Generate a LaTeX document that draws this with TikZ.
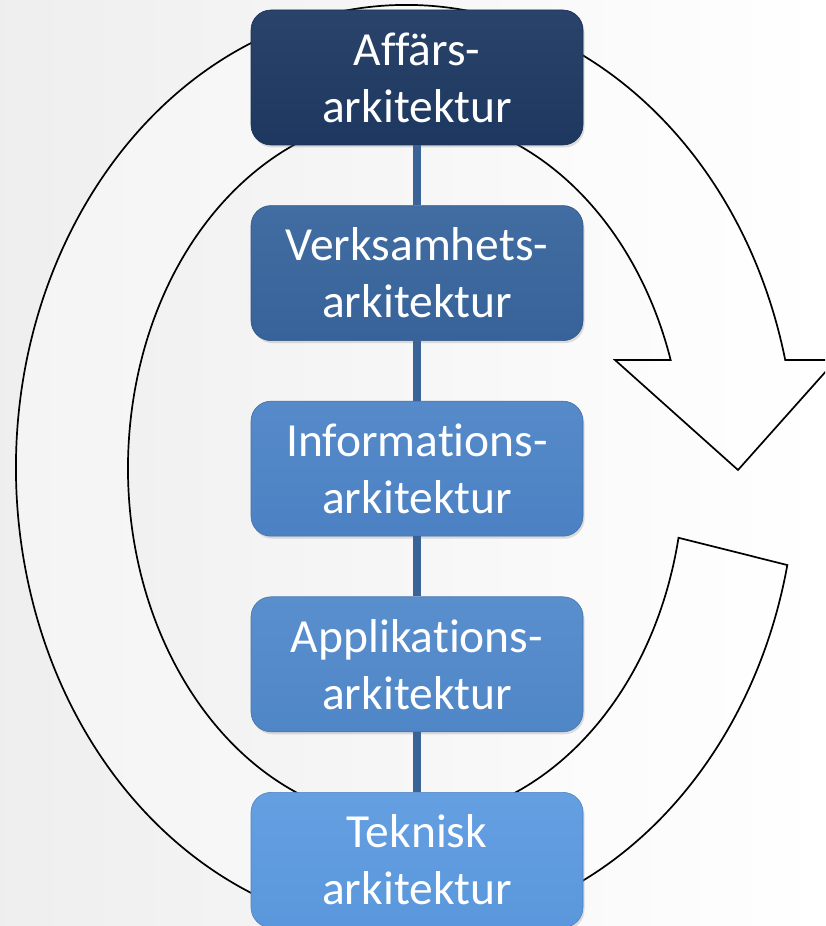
\documentclass[tikz,border=0pt]{standalone}
\usepackage{fontspec}
\setmainfont[RawFeature={-liga;-clig;-calt;-dlig}]{Carlito}
\usetikzlibrary{positioning,calc,shadows}
\tikzset{>=stealth}
\definecolor{affc}{RGB}{30,57,98}
\definecolor{verkc}{RGB}{56,101,157}
\definecolor{infoc}{RGB}{77,132,199}
\definecolor{applc}{RGB}{81,137,203}
\definecolor{teknc}{RGB}{92,154,224}
\definecolor{linec}{RGB}{58,100,152}
\tikzset{
  arkbox/.style={rounded corners=20pt, minimum width=332pt, minimum height=135pt,
    inner sep=0pt, align=center, text=white, font=\fontsize{47.5}{57}\selectfont,
    draw=#1!85!black, line width=.6pt, top color=#1!95!white, bottom color=#1!98!black,
    drop shadow={opacity=.25,shadow xshift=1.5pt,shadow yshift=-2.5pt}},
  ringline/.style={draw=black, line width=1.7pt, left color=gray!9, right color=white},
  conn/.style={draw=linec, line width=8pt},
}
\begin{document}
\begin{tikzpicture}[x=1pt,y=1pt]
\clip (0,0) rectangle (825,926);
\fill[left color=gray!13, right color=white] (0,0) rectangle (825,926);
% circular arrow
\coordinate (C) at (406,458);
\coordinate (headR) at ($(C)+(13.5:390pt and 463pt)$);
\coordinate (tailI) at ($(C)+(348.6:278pt and 353pt)$);
\coordinate (headL) at (615,566);
\coordinate (tip) at (738,456);
\coordinate (headX) at (836,566);
\draw[ringline] (headR) arc[start angle=13.5, end angle=347.9, x radius=390pt, y radius=463pt]
  -- (tailI) arc[start angle=348.6, end angle=17.8, x radius=278pt, y radius=353pt]
  -- (headL) -- (tip) -- (headX) -- cycle;
% boxes
\node[arkbox=affc] (affar) at (417,848.5) {Affärs-\\arkitektur};
\node[arkbox=verkc, below=60pt of affar] (verks) {Verksamhets-\\arkitektur};
\node[arkbox=infoc, below=60pt of verks] (info) {Informations-\\arkitektur};
\node[arkbox=applc, below=60pt of info] (appl) {Applikations-\\arkitektur};
\node[arkbox=teknc, below=60pt of appl] (tekn) {Teknisk\\arkitektur};
\draw[conn] (affar) -- (verks);
\draw[conn] (verks) -- (info);
\draw[conn] (info) -- (appl);
\draw[conn] (appl) -- (tekn);
\end{tikzpicture}
\end{document}
